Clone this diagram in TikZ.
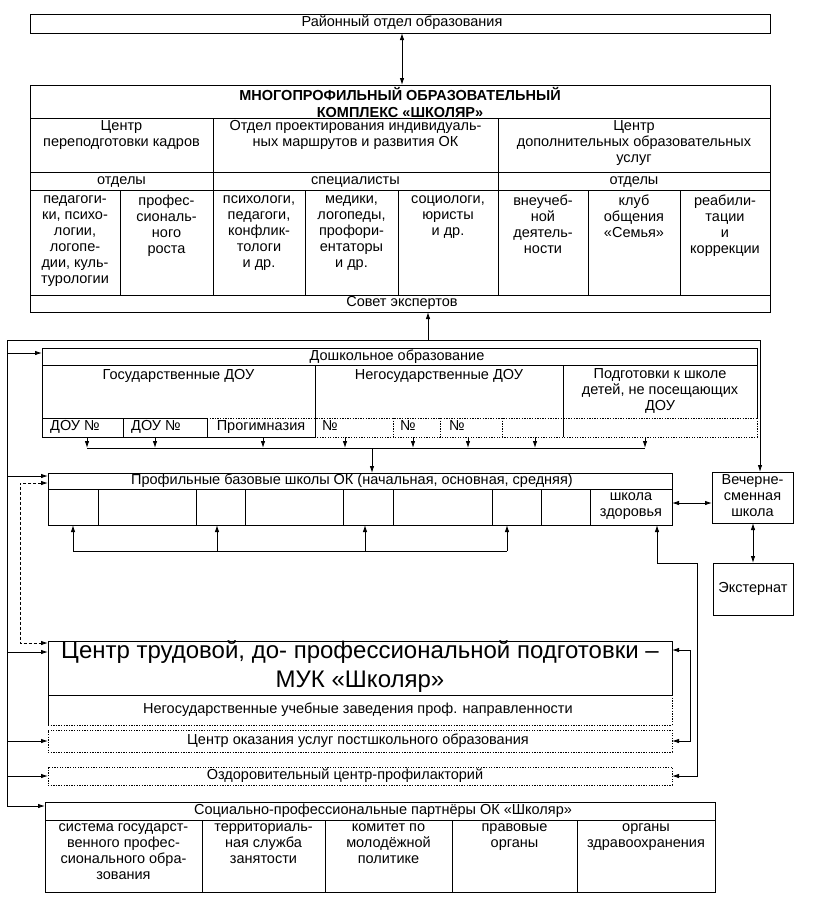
\documentclass[tikz,border=0pt]{standalone}
\usepackage{fontspec}
\setmainfont{Liberation Sans}
\usetikzlibrary{arrows.meta}
\newcommand{\fs}{\fontsize{14.5}{16}\selectfont}
\newcommand{\fbig}{\fontsize{24}{29}\selectfont}
\newcommand{\ftitle}{\fontsize{14.5}{17}\selectfont\bfseries}
\begin{document}
\begin{tikzpicture}[x=1pt,y=-1pt,
  ln/.style={line width=0.9pt},
  dt/.style={line width=0.9pt, dash pattern=on 1.3pt off 1.3pt},
  dsh/.style={dash pattern=on 3pt off 2pt},
  arr/.style={ln,-{Latex[length=7pt,width=4.5pt]}},
  arrb/.style={ln,{Latex[length=7pt,width=4.5pt]}-{Latex[length=7pt,width=4.5pt]}},
  txt/.style={font=\fs, align=center, inner sep=0pt, execute at begin node=\strut, execute at end node=\strut},
  bxs/.style={ln, draw, rectangle, anchor=north west, inner sep=0pt, outer sep=0pt},
  hid/.style={rectangle, anchor=north west, inner sep=0pt, outer sep=0pt}]
\useasboundingbox (0,0) rectangle (817,922);

% ---------- top box
\node[bxs,minimum width=740pt,minimum height=19pt] (rai) at (30,14) {};
\node[txt] (raiT) at (402,23.5) {Районный отдел образования};

% ---------- main complex
\node[bxs,minimum width=740pt,minimum height=227pt] (main) at (30,85) {};
\draw[arrb] (rai.south -| 402,0) -- (main.north -| 402,0);
\draw[ln] (30,118) -- (770,118);
\draw[ln] (30,172) -- (770,172);
\draw[ln] (30,190) -- (770,190);
\draw[ln] (30,295) -- (770,295);
\foreach \x in {213,498} \draw[ln] (\x,118) -- (\x,295);
\foreach \x in {120,305,398,588,680} \draw[ln] (\x,190) -- (\x,295);

\node[txt,font=\ftitle] (mainT) at (400,104.5) {МНОГОПРОФИЛЬНЫЙ ОБРАЗОВАТЕЛЬНЫЙ\\КОМПЛЕКС «ШКОЛЯР»};
\node[txt,anchor=north] (h1) at (121.5,120) {Центр\\переподготовки кадров};
\node[txt,anchor=north] (h2) at (355.5,120) {Отдел проектирования индивидуаль-\\ных маршрутов и развития ОК};
\node[txt,anchor=north] (h3) at (634,120) {Центр\\дополнительных образовательных\\услуг};
\node[txt] (s1) at (121.5,181) {отделы};
\node[txt] (s2) at (355.5,181) {специалисты};
\node[txt] (s3) at (634,181) {отделы};
\node[txt,anchor=north] (c1) at (75,195) {педагоги-\\ки, психо-\\логии,\\логопе-\\дии, куль-\\турологии};
\node[txt,anchor=north] (c2) at (166.5,195) {профес-\\сиональ-\\ного\\роста};
\node[txt,anchor=north] (c3) at (259,195) {психологи,\\педагоги,\\конфлик-\\тологи\\и др.};
\node[txt,anchor=north] (c4) at (351.5,195) {медики,\\логопеды,\\профори-\\ентаторы\\и др.};
\node[txt,anchor=north] (c5) at (448,195) {социологи,\\юристы\\и др.};
\node[txt,anchor=north] (c6) at (543,195) {внеучеб-\\ной\\деятель-\\ности};
\node[txt,anchor=north] (c7) at (634,195) {клуб\\общения\\«Семья»};
\node[txt,anchor=north] (c8) at (725,195) {реабили-\\тации\\и\\коррекции};
\node[txt] (sovet) at (402,303.5) {Совет экспертов};

% ---------- preschool
\node[hid,minimum width=715pt,minimum height=89pt] (dosh) at (42,348) {};
\draw[ln] (42,437) -- (42,348) -- (757,348) -- (757,418);
\draw[dt] (757,418) -- (757,437) -- (315,437);
\draw[ln] (315,437) -- (42,437);
\draw[ln] (42,365) -- (757,365);
\draw[ln] (315,365) -- (315,437);
\draw[ln] (563,365) -- (563,437);
\draw[ln] (42,418) -- (207,418);
\draw[dt] (207,418) -- (757,418);
\draw[ln] (123,418) -- (123,437);
\draw[ln] (207,418) -- (207,437);
\foreach \x in {393,440,502} \draw[dt] (\x,418) -- (\x,437);
\node[txt] (doshT) at (397,357) {Дошкольное образование};
\node[txt,anchor=north] (gos) at (178.5,368) {Государственные ДОУ};
\node[txt,anchor=north] (negos) at (439,368) {Негосударственные ДОУ};
\node[txt,anchor=north] (podg) at (660,368) {Подготовки к школе\\детей, не посещающих\\ДОУ};
\node[txt,anchor=west] (d1) at (50,427.5) {ДОУ №};
\node[txt,anchor=west] (d2) at (131,427.5) {ДОУ №};
\node[txt] (d3) at (261,427.5) {Прогимназия};
\node[txt,anchor=west] (n1) at (322,427.5) {№};
\node[txt,anchor=west] (n2) at (400,427.5) {№};
\node[txt,anchor=west] (n3) at (449,427.5) {№};

% ---------- profile schools
\node[bxs,minimum width=624pt,minimum height=52pt] (prof) at (48,473) {};
\draw[ln] (48,489) -- (672,489);
\foreach \x in {98,196,245,343,393,492,541,590} \draw[ln] (\x,489) -- (\x,525);
\node[txt] (profT) at (352,481) {Профильные базовые школы ОК (начальная, основная, средняя)};
\node[txt,anchor=north] (zdor) at (631,492) {школа\\здоровья};

% bus preschool -> schools
\foreach \x in {87,155,263,345,413,468,535,645} \draw[arr] (dosh.south -| \x,0) -- (\x,448);
\coordinate (busDl) at (87,448);
\coordinate (busDr) at (645,448);
\draw[ln] (busDl) -- (busDr);
\draw[arr] (372,448) -- (prof.north -| 372,0);

% bus under schools
\coordinate (busPl) at (73,551);
\coordinate (busPr) at (507,551);
\draw[ln] (busPl) -- (busPr);
\foreach \x in {73,217,365,507} \draw[arr] (\x,551) -- (prof.south -| \x,0);

% ---------- evening school, externat
\node[bxs,minimum width=81pt,minimum height=51pt] (vech) at (712,472) {};
\node[txt] (vechT) at (752.5,497.5) {Вечерне-\\сменная\\школа};
\node[bxs,minimum width=80pt,minimum height=52pt] (ext) at (713,563) {};
\node[txt] (extT) at (753,589) {Экстернат};
\draw[arrb] (prof.east |- 0,503) -- (vech.west |- 0,503);
\draw[arrb] (vech.south -| 753,0) -- (ext.north -| 753,0);

% ---------- labour centre
\node[bxs,minimum width=624pt,minimum height=54pt] (ctr) at (48,641) {};
\node[txt,font=\fbig] (ctrT) at (360,668) {Центр трудовой, до- профессиональной подготовки –\\МУК «Школяр»};
\node[hid,minimum width=624pt,minimum height=30pt] (negu) at (48,695) {};
\draw[ln] (48,695) -- (48,725);
\draw[dt] (672,695) -- (672,725);
\draw[dt] (48,725) -- (672,725);
\node[txt] (neguT) at (358,710) {Негосударственные учебные заведения проф. направленности};
\node[bxs,dt,minimum width=624pt,minimum height=22pt] (cusl) at (48,730) {};
\node[txt] (cuslT) at (358,741) {Центр оказания услуг постшкольного образования};
\node[bxs,dt,minimum width=624pt,minimum height=18pt] (ozd) at (48,767) {};
\node[txt] (ozdT) at (345,776) {Оздоровительный центр-профилакторий};

% ---------- partners
\node[bxs,minimum width=670pt,minimum height=90pt] (soc) at (45,802) {};
\draw[ln] (45,820) -- (715,820);
\foreach \x in {202,325,452,577} \draw[ln] (\x,820) -- (\x,892);
\node[txt] (socT) at (383,811) {Социально-профессиональные партнёры ОК «Школяр»};
\node[txt,anchor=north] (p1) at (123.5,823) {система государст-\\венного профес-\\сионального обра-\\зования};
\node[txt,anchor=north] (p2) at (263.5,823) {территориаль-\\ная служба\\занятости};
\node[txt,anchor=north] (p3) at (388.5,823) {комитет по\\молодёжной\\политике};
\node[txt,anchor=north] (p4) at (514.5,823) {правовые\\органы};
\node[txt,anchor=north] (p5) at (646,823) {органы\\здравоохранения};

% ---------- right-side connectors
\draw[arrb] (ctr.east |- 0,650) -- (690,650) -- (690,741) -- (cusl.east |- 0,741);
\draw[arrb] (ozd.east |- 0,776) -- (697,776) -- (697,563) -- (657,563) -- (prof.south -| 657,0);

% ---------- expert council and left bus
\coordinate (L0) at (7,340);
\coordinate (S0) at (428,340);
\coordinate (R0) at (760,340);
\coordinate (LB) at (7,806);
\draw[arr] (S0) -- (main.south -| S0);
\draw[ln] (L0) -- (R0);
\draw[arr] (R0) -- (vech.north -| R0);
\draw[arr] (L0) -- (LB) -- (soc.west |- LB);
\foreach \y/\n in {353/dosh,476/prof,652/ctr,741/cusl,776/ozd}
  \draw[arr] (L0 |- 0,\y) -- (\n.west |- 0,\y);
\draw[arrb,dsh] (prof.west |- 0,483) -- (20,483) -- (20,643) -- (ctr.west |- 0,643);
\end{tikzpicture}
\end{document}
